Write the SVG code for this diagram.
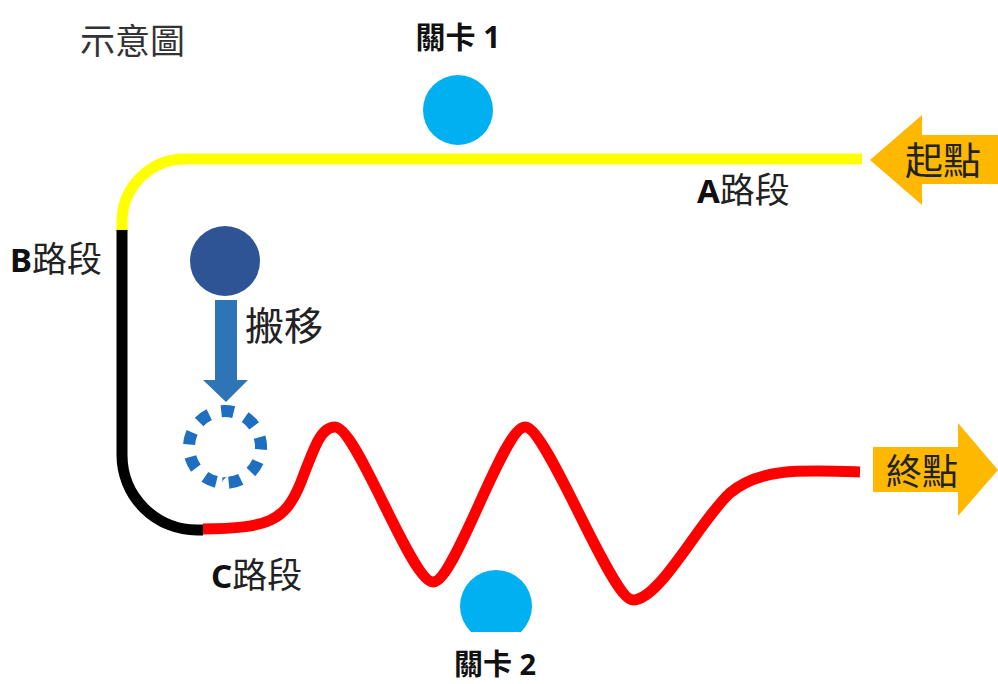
<svg xmlns="http://www.w3.org/2000/svg" width="998" height="684" viewBox="0 0 998 684">
<style>
.cjk{font-family:"Noto Sans CJK TC","Noto Sans CJK SC",sans-serif;fill:#222}
.bold{font-family:"Noto Sans","Noto Sans CJK TC",sans-serif;font-weight:bold;fill:#111}
.path{fill:none;stroke-linecap:butt;stroke-linejoin:round}
</style>
<defs>
<clipPath id="clip2"><rect x="440" y="550" width="120" height="82"/></clipPath>
</defs>
<rect width="998" height="684" fill="#fff"/>
<g id="title"><text class="cjk" x="80" y="54" font-size="35" style="fill:#333">示意圖</text></g>
<g id="connectors">
<path id="pathA" class="path" d="M122 232 V 222 A 63 63 0 0 1 185 159 H 862" stroke="#FFFF00" stroke-width="11"/>
<path id="pathB" class="path" d="M122 230 V 455 A 75 75 0 0 0 197 530 H 203" stroke="#000" stroke-width="11"/>
<path id="pathC" class="path" d="M203 529 C 268 528, 285 522, 301 482 C 316 442, 322 427, 335 427 C 357 427, 411 582, 433 582 C 455 582, 503 427, 525 427 C 547 427, 611 600, 633 600 C 660 600, 700 520, 730 493 C 760 468, 800 470, 860 472" stroke="#FF0000" stroke-width="11"/>
</g>
<g id="checkpoint1">
<circle cx="458" cy="110" r="35" fill="#00B0F0"/>
<text class="bold" x="458" y="48" font-size="30" text-anchor="middle">關卡 1</text>
</g>
<g id="checkpoint2">
<circle cx="496" cy="606" r="36" fill="#00B0F0" clip-path="url(#clip2)"/>
<text class="bold" x="495" y="675" font-size="29" text-anchor="middle">關卡 2</text>
</g>
<g id="labelA"><text class="cjk" x="697" y="203" font-size="35"><tspan class="bold" style="font-size:33px">A</tspan>路段</text></g>
<g id="labelB"><text class="cjk" x="10" y="272" font-size="35"><tspan class="bold" style="font-size:33px">B</tspan>路段</text></g>
<g id="labelC"><text class="cjk" x="211" y="588" font-size="35"><tspan class="bold" style="font-size:33px">C</tspan>路段</text></g>
<g id="moveObject">
<circle cx="225" cy="261" r="35" fill="#2F5496"/>
<path d="M215 300 H237 V380 H248 L226 402 L203 380 H215 Z" fill="#2E75B6"/>
<text class="cjk" x="245" y="340" font-size="39">搬移</text>
<circle cx="225" cy="447" r="36" fill="none" stroke="#1F6FC0" stroke-width="12" pathLength="90" stroke-dasharray="5 5" transform="rotate(-96 225 447)"/>
</g>
<g id="start">
<path d="M870 160 L922 115 V135 H998 V184 H922 V205 Z" fill="#FFB800"/>
<text class="cjk" x="905" y="174" font-size="38">起點</text>
</g>
<g id="end">
<path d="M873 447 H958 V423 L998 470 L958 516 V492 H873 Z" fill="#FFB800"/>
<text class="cjk" x="886" y="485" font-size="36">終點</text>
</g>
</svg>
